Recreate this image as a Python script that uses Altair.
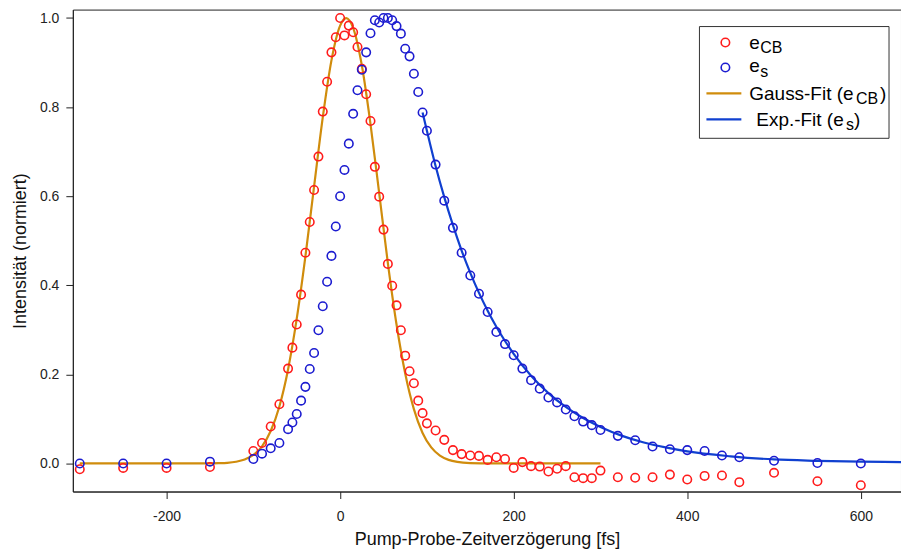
import altair as alt
import pandas as pd

# ---------------- data ----------------
delay_fs = [-300, -250, -200, -150, -100, -90, -80, -70,
            -60, -55, -50, -45, -40, -35, -30, -25, -20, -15, -10, -5, 0, 5, 10, 15, 20,
            25, 30, 35, 40, 45, 50, 55, 60, 65, 70, 75, 80, 85, 90, 95, 100,
            110, 120, 130, 140, 150, 160, 170, 180, 190, 200, 210, 220, 230, 240, 250,
            260, 270, 280, 290, 300, 320, 340, 360, 380, 400, 420, 440, 460, 500, 550, 600]

e_cb = [-0.013, -0.010, -0.010, -0.008, 0.028, 0.046, 0.083, 0.133,
        0.213, 0.260, 0.312, 0.379, 0.473, 0.542, 0.614, 0.689, 0.790, 0.857, 0.923, 0.957,
        1.000, 0.961, 0.983, 0.968, 0.935, 0.886, 0.829, 0.769, 0.666, 0.599, 0.525, 0.448,
        0.399, 0.355, 0.299, 0.242, 0.207, 0.180, 0.141, 0.113, 0.090,
        0.074, 0.053, 0.030, 0.021, 0.018, 0.017, 0.008, 0.014, 0.010, -0.010, 0.003,
        -0.006, -0.007, -0.018, -0.012, -0.006, -0.031, -0.033, -0.033, -0.016,
        -0.031, -0.032, -0.031, -0.025, -0.036, -0.028, -0.027, -0.042, -0.021, -0.040, -0.049]

e_s = [0.000, 0.000, 0.000, 0.004, 0.010, 0.022, 0.034, 0.046,
       0.077, 0.092, 0.111, 0.141, 0.172, 0.212, 0.248, 0.299, 0.353, 0.408, 0.466, 0.532,
       0.600, 0.659, 0.718, 0.785, 0.838, 0.884, 0.923, 0.966, 0.995, 0.990, 1.000, 1.000,
       0.995, 0.982, 0.965, 0.931, 0.914, 0.875, 0.834, 0.788, 0.747,
       0.671, 0.590, 0.529, 0.473, 0.422, 0.381, 0.340, 0.295, 0.268, 0.243, 0.213,
       0.187, 0.168, 0.148, 0.137, 0.121, 0.106, 0.094, 0.086, 0.075,
       0.062, 0.052, 0.038, 0.032, 0.030, 0.028, 0.018, 0.014, 0.006, 0.001, 0.000]

gauss_t = [-300, -200, -150, -140, -130, -120, -110, -100, -90, -80, -70, -60, -50, -40,
           -30, -20, -10, 0, 7, 15, 25, 35, 45, 55, 65, 75, 85, 95, 105, 115, 125, 135,
           150, 175, 300]
gauss_v = [0.0, 0.0, 0.0002, 0.0006, 0.0015, 0.0038, 0.0087, 0.019, 0.0385, 0.0728, 0.128,
           0.211, 0.325, 0.465, 0.622, 0.777, 0.905, 0.983, 1.0, 0.978, 0.894, 0.762, 0.607,
           0.450, 0.312, 0.202, 0.122, 0.0685, 0.036, 0.0176, 0.0081, 0.0034, 0.0008, 0.0, 0.0]

exp_t = [95, 100, 110, 120, 130, 140, 150, 160, 170, 180, 190, 200, 220, 240, 260, 280,
         300, 325, 350, 375, 400, 450, 500, 550, 600, 650]
exp_v = [0.788, 0.747, 0.668, 0.598, 0.535, 0.478, 0.428, 0.383, 0.343, 0.307, 0.275, 0.246,
         0.197, 0.158, 0.127, 0.102, 0.082, 0.062, 0.047, 0.036, 0.027, 0.016, 0.009, 0.006,
         0.004, 0.003]

x_ticks = [-200, 0, 200, 400, 600]
y_ticks = [0.0, 0.2, 0.4, 0.6, 0.8, 1.0]

# ---------------- style ----------------
RED = "#ff1c1c"
BLUE_PT = "#1c1cd0"
ORANGE = "#d08c0c"
BLUE_LN = "#1040d0"
FONT = "Liberation Sans"

pts = pd.DataFrame({"t": delay_fs, "cb": e_cb, "s": e_s})
gauss = pd.DataFrame({"t": gauss_t, "v": gauss_v})
expf = pd.DataFrame({"t": exp_t, "v": exp_v})

xs = alt.Scale(domain=[-308, 646.3], nice=False, zero=False)
ys = alt.Scale(domain=[-0.063, 1.019], nice=False, zero=False)

xax = alt.Axis(title="Pump-Probe-Zeitverzögerung [fs]", values=x_ticks, grid=False,
               labelExpr="datum.value < 0 ? '-' + abs(datum.value) : '' + datum.value",
               labelPadding=11, titlePadding=7,
               labelFont=FONT, labelFontSize=14, labelColor="#222222",
               titleFont=FONT, titleFontSize=18, titleFontWeight="normal", titleColor="#111111",
               domainColor="#222222", tickColor="#222222", tickSize=7)
yax = alt.Axis(title="Intensität (normiert)", values=y_ticks, grid=False,
               format=".1f", labelPadding=7, titlePadding=10,
               labelFont=FONT, labelFontSize=14, labelColor="#222222",
               titleFont=FONT, titleFontSize=18, titleFontWeight="normal", titleColor="#111111",
               domainColor="#222222", tickColor="#222222", tickSize=7)

gauss_line = alt.Chart(gauss).mark_line(color=ORANGE, strokeWidth=2.2, interpolate="monotone",
                                        clip=True).encode(
    x=alt.X("t:Q", scale=xs, axis=xax), y=alt.Y("v:Q", scale=ys, axis=yax))
exp_line = alt.Chart(expf).mark_line(color=BLUE_LN, strokeWidth=2.2, interpolate="monotone",
                                     clip=True).encode(
    x=alt.X("t:Q", scale=xs), y=alt.Y("v:Q", scale=ys))
red_pts = alt.Chart(pts).mark_point(shape="circle", filled=False, color=RED, size=72,
                                    strokeWidth=1.6, opacity=1, clip=True).encode(
    x=alt.X("t:Q", scale=xs), y=alt.Y("cb:Q", scale=ys))
blue_pts = alt.Chart(pts).mark_point(shape="circle", filled=False, color=BLUE_PT, size=72,
                                     strokeWidth=1.6, opacity=1, clip=True).encode(
    x=alt.X("t:Q", scale=xs), y=alt.Y("s:Q", scale=ys))

# ---------------- manual legend (for subscripts) ----------------
one = pd.DataFrame({"a": [0]})
LF = 19
SF = 16
leg = [
    alt.Chart(one).mark_rect(fill="white", stroke="#333333", strokeWidth=1).encode(
        x=alt.value(628), x2=alt.value(818), y=alt.value(17), y2=alt.value(129)),
    alt.Chart(one).mark_point(shape="circle", filled=False, color=RED, size=72, opacity=1,
                              strokeWidth=1.6).encode(x=alt.value(654), y=alt.value(33)),
    alt.Chart(one).mark_point(shape="circle", filled=False, color=BLUE_PT, size=72, opacity=1,
                              strokeWidth=1.6).encode(x=alt.value(654), y=alt.value(58)),
    alt.Chart(one).mark_rule(color=ORANGE, strokeWidth=2.2).encode(
        x=alt.value(635), x2=alt.value(670), y=alt.value(84)),
    alt.Chart(one).mark_rule(color=BLUE_LN, strokeWidth=2.2).encode(
        x=alt.value(635), x2=alt.value(670), y=alt.value(110)),
]
texts = [
    ("e", 678, 39, LF), ("CB", 689, 44, SF),
    ("e", 678, 63, LF), ("s", 689, 68, SF),
    ("Gauss-Fit (e", 678, 91, LF), ("CB", 785, 95, SF), (")", 809, 91, LF),
    ("Exp.-Fit (e", 685, 117, LF), ("s", 775, 121, SF), (")", 783, 117, LF),
]
for txt, tx, ty, fs in texts:
    leg.append(alt.Chart(one).mark_text(text=txt, align="left", baseline="alphabetic",
                                        font=FONT, fontSize=fs, color="black").encode(
        x=alt.value(tx), y=alt.value(ty)))

chart = alt.layer(gauss_line, exp_line, red_pts, blue_pts, *leg).properties(
    width=830, height=483,
    autosize=alt.AutoSizeParams(type="none"),
    padding={"left": 73, "top": 9, "right": 0, "bottom": 58},
    background="white",
).configure_view(stroke="#222222", strokeWidth=1)

chart.save("out.html", embed_options={"renderer": "svg", "actions": False})
